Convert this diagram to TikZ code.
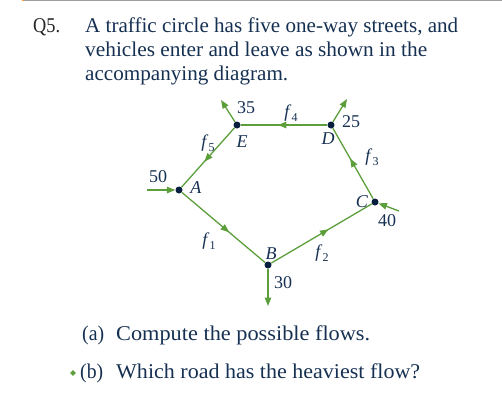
\documentclass[tikz,border=0pt]{standalone}
\usepackage{fontspec}
\setmainfont{Liberation Serif}
\usetikzlibrary{arrows.meta,decorations.markings,shapes.geometric}
\definecolor{roadgreen}{RGB}{92,158,58}
\definecolor{ink}{RGB}{22,48,82}
\definecolor{dotc}{RGB}{8,30,62}
\newcommand{\fl}[1]{\textit{f}\kern0.3pt\raisebox{-0.45ex}{\fontsize{12}{12}\selectfont #1}}
\newcommand{\fitw}[2]{\resizebox{#1pt}{\height}{#2}}
\begin{document}
\begin{tikzpicture}[x=1pt,y=-1pt,
  dot/.style={circle,fill=dotc,inner sep=0pt,minimum size=7pt},
  street/.style={color=roadgreen,line width=1.3pt},
  rtip/.style={-{Triangle[length=8.5pt,width=6.5pt]}},
  midarrow/.style={postaction={decorate},decoration={markings,
      mark=at position 0.57 with {\arrow{Triangle[length=8.5pt,width=6.5pt]}}}},
  lbl/.style={text=ink,font=\fontsize{18}{18}\selectfont,inner sep=0pt},
  body/.style={text=ink,font=\fontsize{21}{21}\selectfont,inner sep=0pt,anchor=base west},
]
\useasboundingbox (0,0) rectangle (502,402);
% top rule
\draw[gray!75,line width=1.2pt] (22,0.6) -- (502,0.6);
\draw[orange!80,line width=1.2pt] (22,0.6) -- (24,0.6);

% question text
\node[body,text=black!85] (q) at (33,32) {\fitw{27}{Q5.}};
\node[body] (t1) at (85,32) {\fitw{373}{A traffic circle has five one-way streets, and}};
\node[body] (t2) at (85,56) {\fitw{342}{vehicles enter and leave as shown in the}};
\node[body] (t3) at (85,80) {\fitw{203}{accompanying diagram.}};

% intersections
\node[dot] (E) at (237,125) {};
\node[dot] (D) at (331,125) {};
\node[dot] (A) at (179,190) {};
\node[dot] (C) at (375,202) {};
\node[dot] (B) at (268,265) {};

% external ends
\coordinate (Eo) at (221,100);
\coordinate (Do) at (347,99);
\coordinate (Ai) at (147,190);
\coordinate (Ci) at (399,211);
\coordinate (Bo) at (268,306);

% internal streets
\draw[street,midarrow] (D) -- (E);
\draw[street,midarrow] (E) -- (A);
\draw[street,midarrow] (A) -- (B);
\draw[street,midarrow] (B) -- (C);
\draw[street,midarrow] (C) -- (D);

% entering / leaving
\draw[street,rtip] (E) -- (Eo);
\draw[street,rtip] (D) -- (Do);
\draw[street,rtip] (Ai) -- (A);
\draw[street,rtip] (Ci) -- (C);
\draw[street,rtip] (B) -- (Bo);

% labels
\node[lbl] (l35) at (246,108) {35};
\node[lbl] (l25) at (351,122) {25};
\node[lbl] (l50) at (158,177) {50};
\node[lbl] (l40) at (387,221) {40};
\node[lbl] (l30) at (283,283) {30};
\node[lbl] (lE) at (242,142) {\textit{E}};
\node[lbl] (lD) at (328,139) {\textit{D}};
\node[lbl] (lA) at (196,188) {\textit{A}};
\node[lbl] (lC) at (362,202) {\textit{C}};
\node[lbl] (lB) at (271,254) {\textit{B}};
\node[lbl] (f4) at (291,113) {\fl{4}};
\node[lbl] (f5) at (208,143) {\fl{5}};
\node[lbl] (f3) at (372,157) {\fl{3}};
\node[lbl] (f1) at (209,241) {\fl{1}};
\node[lbl] (f2) at (322,253) {\fl{2}};

% parts
\node[body] (pa) at (82,340) {\fitw{22}{(a)}};
\node[body] (ta) at (116,340) {\fitw{254}{Compute the possible flows.}};
\node[diamond,fill=roadgreen,inner sep=0pt,minimum size=6pt] (bul) at (73,373) {};
\node[body] (pb) at (80,378) {\fitw{23}{(b)}};
\node[body] (tb) at (116,378) {\fitw{304}{Which road has the heaviest flow?}};
\end{tikzpicture}
\end{document}
